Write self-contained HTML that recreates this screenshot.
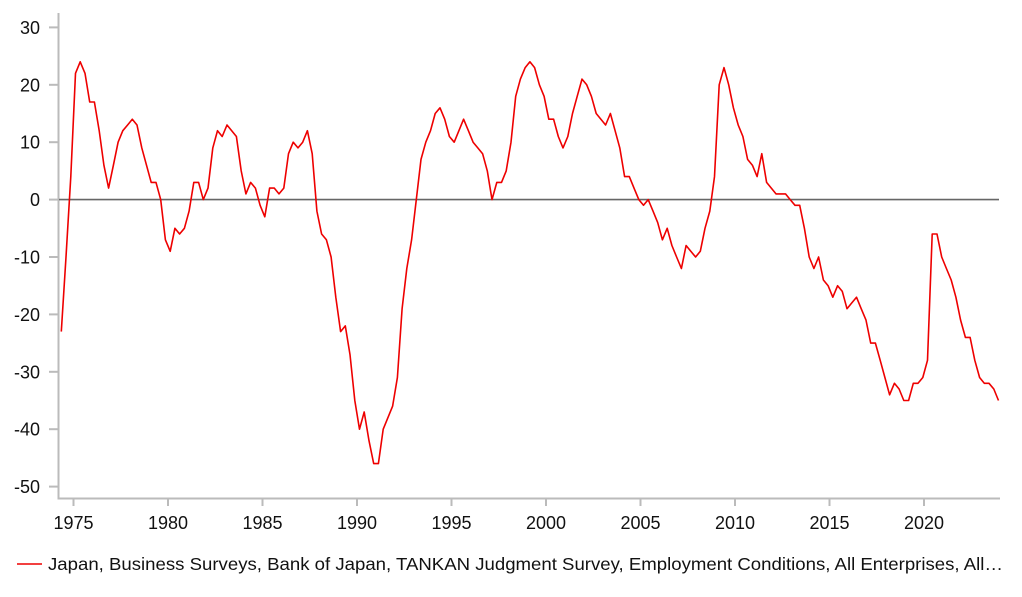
<!DOCTYPE html>
<html><head><meta charset="utf-8"><style>
html,body{margin:0;padding:0;background:#fff;width:1022px;height:597px;overflow:hidden}
svg{display:block}
text{font-family:"Liberation Sans",Arial,sans-serif;fill:#111}
</style></head><body>
<svg id="c" width="1022" height="597" xmlns="http://www.w3.org/2000/svg">
<g stroke="#bbb" stroke-width="2" fill="none">
<line x1="58.5" y1="13" x2="58.5" y2="499"/>
<line x1="57.5" y1="498.5" x2="1000" y2="498.5"/>
</g>
<g id="yt" stroke="#bbb" stroke-width="2"></g>
<g id="xt" stroke="#bbb" stroke-width="2"></g>
<g id="yl" font-size="18" text-anchor="end"></g>
<g id="xl" font-size="18" text-anchor="middle"></g>
<line x1="59" y1="199.6" x2="999" y2="199.6" stroke="#666" stroke-width="1.6"/>
<polyline id="ser" fill="none" stroke="#e00" stroke-width="1.6" stroke-linejoin="round"/>
<line x1="17" y1="564" x2="42" y2="564" stroke="#e00" stroke-width="1.6"/>
<text x="48" y="570" font-size="17.5" textLength="955" lengthAdjust="spacingAndGlyphs">Japan, Business Surveys, Bank of Japan, TANKAN Judgment Survey, Employment Conditions, All Enterprises, All…</text>
</svg>
<script>
var NS="http://www.w3.org/2000/svg";
function Y(v){return 199.6-v*5.74;}
function el(g,tag,a,t){var e=document.createElementNS(NS,tag);for(var k in a)e.setAttribute(k,a[k]);if(t)e.textContent=t;document.getElementById(g).appendChild(e);}
for(var v=30;v>=-50;v-=10){var y=Y(v);el("yt","line",{x1:49,y1:y,x2:58,y2:y});el("yl","text",{x:40,y:y+6.5},String(v));}
for(var yr=1975;yr<=2020;yr+=5){var x=73.5+(yr-1975)*18.9;el("xt","line",{x1:x,y1:498,x2:x,y2:506});el("xl","text",{x:x,y:529},String(yr));}
var d=[-23,-10,4,22,24,22,17,17,12,6,
2,6,10,12,13,14,13,9,6,3,3,
0,-7,-9,-5,-6,-5,-2,3,3,0,
2,9,12,11,13,12,11,5,1,3,2,-1,-3,
2,2,1,2,8,10,9,10,12,8,-2,-6,-7,-10,-17,
-23,-22,-27,-35,-40,-37,-42,-46,-46,-40,-38,-36,-31,-19,-12,-7,0,7,10,12,15,16,14,11,10,12,14,12,10,9,8,5,0,
3,3,5,10,18,21,23,24,23,20,18,14,14,11,9,11,
15,18,21,20,18,15,14,13,15,12,9,4,4,2,0,-1,0,-2,-4,-7,-5,-8,-10,-12,-8,-9,-10,-9,-5,-2,4,20,23,20,16,13,11,7,6,4,8,3,2,1,1,1,0,-1,-1,-5,-10,
-12,-10,-14,-15,-17,-15,-16,-19,-18,-17,-19,-21,-25,-25,-28,-31,-34,-32,-33,-35,-35,-32,-32,-31,-28,-6,-6,-10,-12,-14,-17,-21,-24,-24,-28,-31,-32,-32,-33,-35];
var step=(998.5-61.3)/(d.length-1),p=[];
for(var i=0;i<d.length;i++)p.push((61.3+i*step).toFixed(1)+","+Y(d[i]).toFixed(1));
document.getElementById("ser").setAttribute("points",p.join(" "));
</script>
</body></html>
